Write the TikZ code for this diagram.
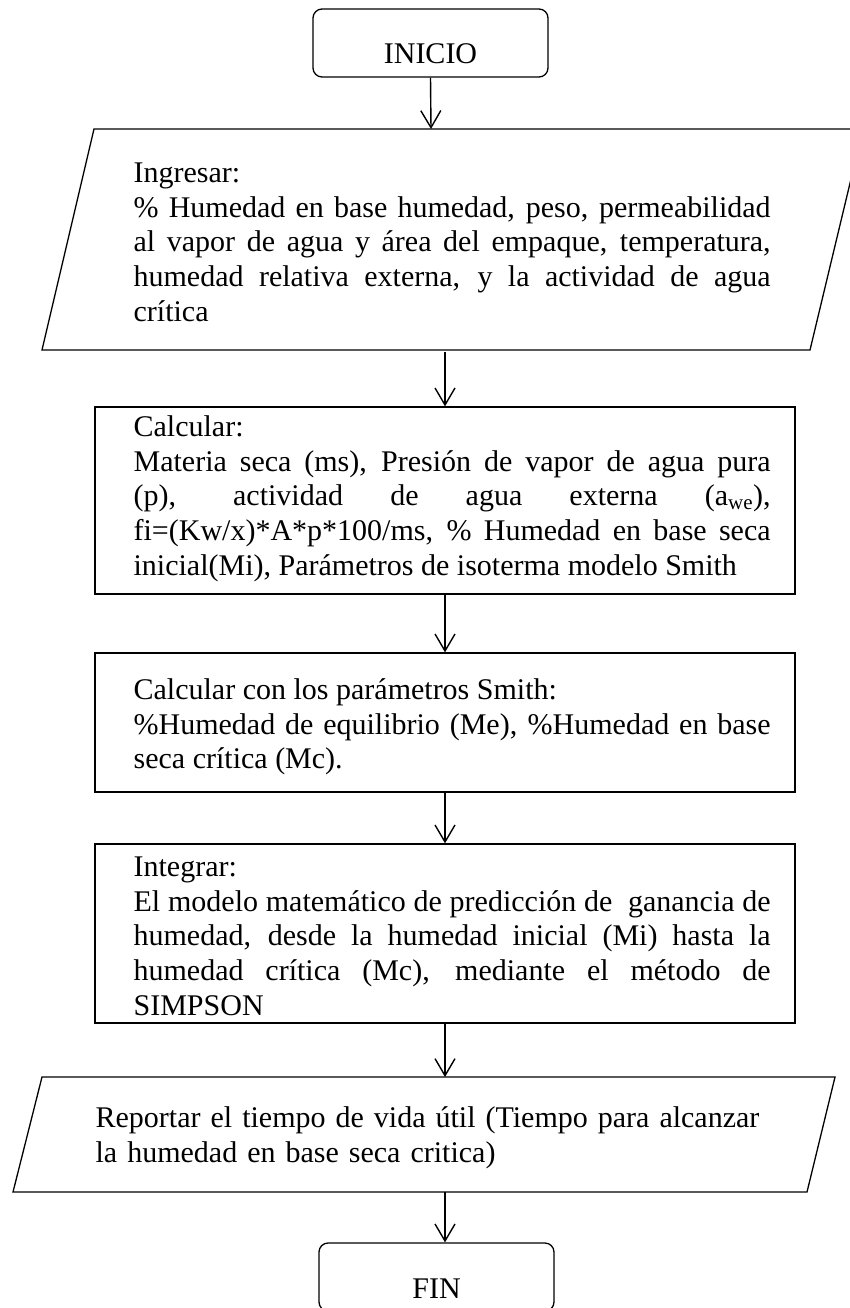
\documentclass[tikz,border=0pt]{standalone}
\usepackage{fontspec}
\setmainfont{Liberation Serif}
\usetikzlibrary{arrows.meta}
\newcommand\bigtxt{\fontsize{30}{34.6}\selectfont\tolerance=10000\hyphenpenalty=10000\relax}
\begin{document}
\begin{tikzpicture}[x=1pt,y=-1pt,
  line width=1.3pt,
  term/.style={draw, rounded corners=9pt, minimum width=235pt, inner sep=0pt,
               text height=55pt, text depth=13pt, font=\bigtxt},
  procbox/.style={draw, minimum width=700pt, inner sep=0pt},
  txt/.style={anchor=north west, inner sep=0pt, text width=637pt, align=justify, font=\bigtxt},
  txtl/.style={anchor=north west, inner sep=0pt, text width=720pt, align=left, font=\bigtxt},
  arr/.style={line width=1.4pt, -{Straight Barb[length=17pt,width=20pt]}}
]
\useasboundingbox (0,0) rectangle (850,1308);

% start
\node[term] (inicio) at (430.5,43) {INICIO};

% input parallelogram
\draw (94,129) -- (863,129) -- (810,350) -- (42,350) -- cycle;
\coordinate (p1top) at (431,129);
\coordinate (p1bot) at (445,352);
\node[txt] (t1) at (133,157.8) {\strut Ingresar:\\
\% Humedad en base humedad, peso, permeabilidad\linebreak
al vapor de agua y área del empaque, temperatura,\linebreak
humedad relativa externa, y la actividad de agua\linebreak
crítica};

% calcular
\node[procbox, minimum height=187pt] (calc) at (445,500.5) {};
\node[txt] (t2) at (133,411.8) {\strut Calcular:\\
Materia seca (ms), Presión de vapor de agua pura\linebreak
(p), actividad de agua externa (a\textsubscript{we}),\linebreak
fi=(Kw/x)*A*p*100/ms, \% Humedad en base seca\linebreak
inicial(Mi), Parámetros de isoterma modelo Smith};

% calcular con smith
\node[procbox, minimum height=139pt] (b3) at (445,722.5) {};
\node[txt] (t3) at (133,674.8) {\strut Calcular con los parámetros Smith:\\
\%Humedad de equilibrio (Me), \%Humedad en base\linebreak
seca crítica (Mc).};

% integrar
\node[procbox, minimum height=179pt] (b4) at (445,933.5) {};
\node[txt] (t4) at (133,851.8) {\strut Integrar:\\
El modelo matemático de predicción de\ \ ganancia de\linebreak
humedad, desde la humedad inicial (Mi) hasta la\linebreak
humedad crítica (Mc), mediante el método de\linebreak
SIMPSON};

% output parallelogram
\draw (42,1077) -- (835,1077) -- (807,1192) -- (13,1192) -- cycle;
\coordinate (p2top) at (445,1077);
\coordinate (p2bot) at (445,1192);
\node[txtl] (t5) at (95,1102.8) {\strut Reportar el tiempo de vida útil (Tiempo para alcanzar\\
la humedad en base seca critica)};

% end
\node[term] (fin) at (436.5,1277) {FIN};

% connectors
\draw[arr] (inicio.south) -- (p1top);
\draw[arr] (p1bot) -- (calc.north);
\draw[arr] (calc.south) -- (b3.north);
\draw[arr] (b3.south) -- (b4.north);
\draw[arr] (b4.south) -- (p2top);
\draw[arr] (p2bot) -- (p2bot |- fin.north);
\end{tikzpicture}
\end{document}
